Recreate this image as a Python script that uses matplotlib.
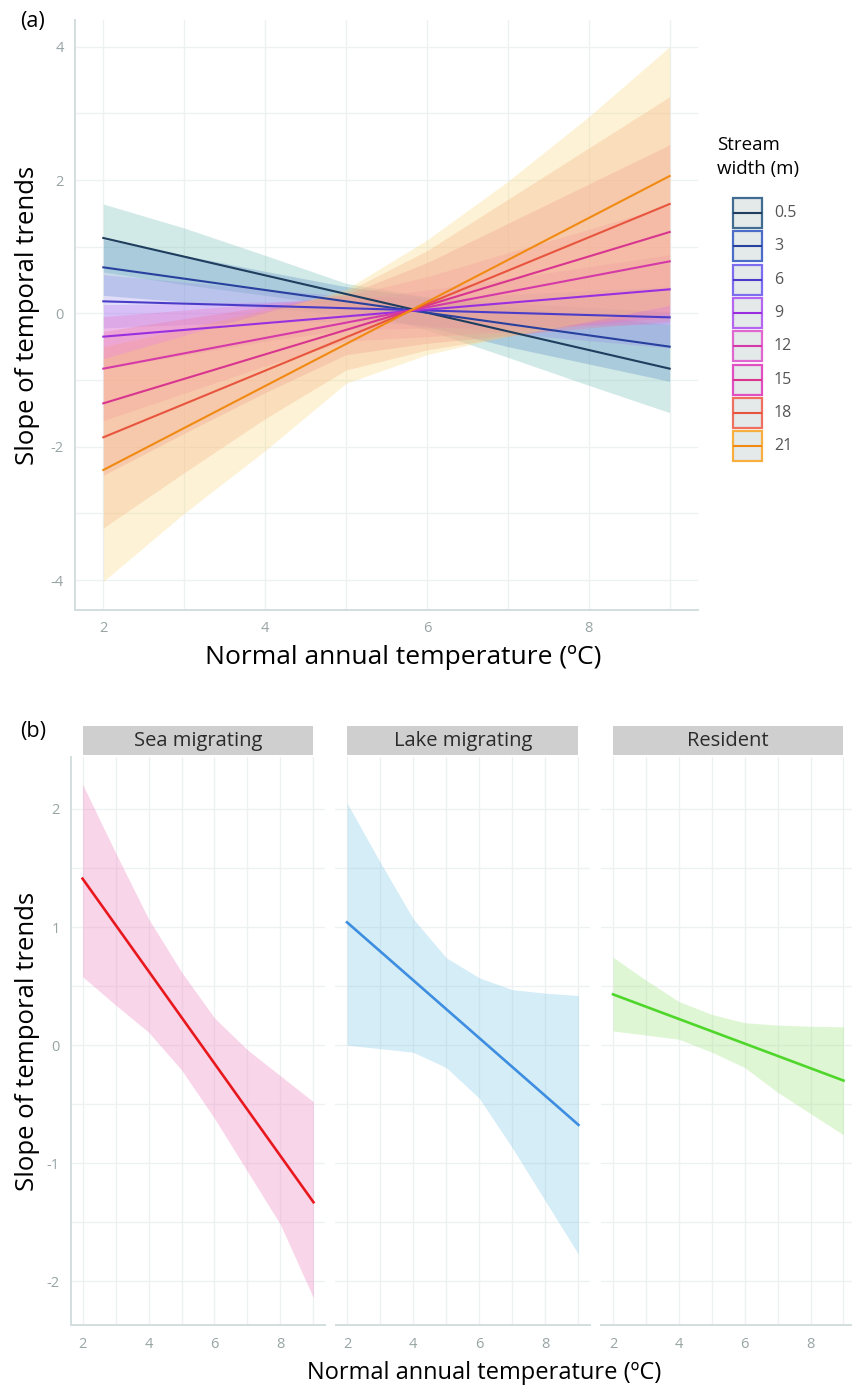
import matplotlib.pyplot as plt
from matplotlib.patches import Rectangle
from matplotlib.transforms import blended_transform_factory

plt.rcParams['font.family'] = ['Open Sans', 'DejaVu Sans']
plt.rcParams['axes.unicode_minus'] = False

# ---- panel (a): slope vs temperature for each stream width ----
temp_grid = [2, 3, 4, 5, 6, 7, 8, 9]
line_x = [2, 9]
widths = ['0.5', '3', '6', '9', '12', '15', '18', '21']

line_y = {
    '0.5': [1.13, -0.83],
    '3':   [0.69, -0.50],
    '6':   [0.18, -0.06],
    '9':   [-0.35, 0.36],
    '12':  [-0.83, 0.78],
    '15':  [-1.35, 1.22],
    '18':  [-1.86, 1.64],
    '21':  [-2.35, 2.06],
}
band_lo = {
    '0.5': [0.62, 0.43, 0.27, 0.10, -0.25, -0.66, -1.08, -1.49],
    '3':   [0.27, 0.17, 0.08, -0.02, -0.20, -0.50, -0.76, -1.02],
    '6':   [-0.22, -0.17, -0.13, -0.12, -0.18, -0.30, -0.41, -0.52],
    '9':   [-0.83, -0.63, -0.42, -0.25, -0.22, -0.20, -0.18, -0.16],
    '12':  [-1.61, -1.20, -0.79, -0.42, -0.35, -0.28, -0.17, -0.06],
    '15':  [-2.43, -1.80, -1.19, -0.62, -0.45, -0.33, -0.22, -0.12],
    '18':  [-3.22, -2.39, -1.58, -0.85, -0.55, -0.35, -0.15, 0.00],
    '21':  [-4.02, -3.00, -2.06, -1.05, -0.62, -0.34, -0.12, 0.12],
}
band_hi = {
    '0.5': [1.64, 1.28, 0.87, 0.45, 0.25, 0.10, -0.03, -0.17],
    '3':   [1.11, 0.87, 0.63, 0.40, 0.24, 0.16, 0.09, 0.02],
    '6':   [0.58, 0.47, 0.36, 0.26, 0.22, 0.28, 0.34, 0.40],
    '9':   [0.13, 0.15, 0.17, 0.20, 0.35, 0.52, 0.70, 0.88],
    '12':  [-0.05, 0.05, 0.15, 0.26, 0.55, 0.91, 1.26, 1.62],
    '15':  [-0.27, -0.08, 0.10, 0.28, 0.76, 1.35, 1.94, 2.53],
    '18':  [-0.50, -0.23, 0.05, 0.32, 0.94, 1.71, 2.48, 3.25],
    '21':  [-0.68, -0.33, 0.01, 0.36, 1.10, 1.98, 2.95, 4.00],
}
line_colors = ['#1f3d5e', '#28409e', '#4a3cc8', '#9a2fe0',
               '#d43aa8', '#d8358f', '#e8553f', '#f08a12']
fill_colors = ['#6cbcb2', '#4f86c0', '#9a90ee', '#c47cf4',
               '#ee78c4', '#ee7aa0', '#f59c80', '#f9d776']
key_edges = ['#3f6c90', '#4a6dc8', '#7b6cf0', '#b466f0',
             '#e066d0', '#e050c0', '#f07060', '#f7b040']

# ---- panel (b): slope vs temperature per life-history type ----
facets = ['Sea migrating', 'Lake migrating', 'Resident']
facet_line_y = [[1.41, -1.33], [1.04, -0.675], [0.43, -0.30]]
facet_lo = [
    [0.58, 0.34, 0.11, -0.21, -0.62, -1.07, -1.52, -2.14],
    [0.00, -0.03, -0.06, -0.19, -0.45, -0.87, -1.32, -1.77],
    [0.12, 0.085, 0.05, -0.06, -0.19, -0.40, -0.58, -0.76],
]
facet_hi = [
    [2.21, 1.63, 1.07, 0.62, 0.23, -0.04, -0.26, -0.48],
    [2.05, 1.55, 1.07, 0.74, 0.57, 0.47, 0.44, 0.42],
    [0.745, 0.55, 0.37, 0.26, 0.19, 0.17, 0.16, 0.155],
]
facet_line_colors = ['#e8191e', '#3d8de0', '#4fd62a']
facet_fill_colors = ['#ef7dbd', '#7cc8e8', '#9ee67e']

W, H = 853, 1389
fig = plt.figure(figsize=(W / 100, H / 100), dpi=100)

grid_col = '#edf1f1'
spine_col = '#d3dede'
tick_col = '#98a4a4'


def px_axes(left, top, right, bottom):
    return fig.add_axes([left / W, 1 - bottom / H, (right - left) / W, (bottom - top) / H])


def style(ax, xminor, yminor, left_spine=True):
    ax.set_facecolor('white')
    for s in ax.spines.values():
        s.set_visible(False)
    ax.spines['bottom'].set_visible(True)
    ax.spines['bottom'].set_color(spine_col)
    ax.spines['bottom'].set_linewidth(1.4)
    if left_spine:
        ax.spines['left'].set_visible(True)
        ax.spines['left'].set_color(spine_col)
        ax.spines['left'].set_linewidth(1.4)
    for v in list(ax.get_xticks()) + xminor:
        ax.axvline(v, color=grid_col, lw=1.0, zorder=0)
    for v in list(ax.get_yticks()) + yminor:
        ax.axhline(v, color=grid_col, lw=1.0, zorder=0)
    ax.tick_params(length=0, colors=tick_col, labelsize=10.5)


# panel (a)
ax = px_axes(75, 20, 698, 610)
ax.set_xlim(1.65, 9.35)
ax.set_ylim(-4.45, 4.4)
ax.set_xticks([2, 4, 6, 8])
ax.set_yticks([-4, -2, 0, 2, 4])
style(ax, [3, 5, 7, 9], [-3, -1, 1, 3])
ax.tick_params(axis='x', pad=8)
ax.tick_params(axis='y', pad=8)
for w, fc in zip(widths, fill_colors):
    ax.fill_between(temp_grid, band_lo[w], band_hi[w], color=fc, alpha=0.3, lw=0, zorder=2)
for w, lc in zip(widths, line_colors):
    ax.plot(line_x, line_y[w], color=lc, lw=1.5, zorder=3)

fig.text(28 / W, 1 - 315 / H, 'Slope of temporal trends', rotation=90,
         ha='center', va='center', fontsize=18.5)
fig.text(403 / W, 1 - 658 / H, 'Normal annual temperature (\u00baC)',
         ha='center', va='center', fontsize=19)
fig.text(20 / W, 1 - 22 / H, '(a)', ha='left', va='center', fontsize=15.5)

# legend
lg = px_axes(700, 120, 853, 480)
lg.set_xlim(700, 853)
lg.set_ylim(480, 120)
lg.axis('off')
lg.text(717, 145, 'Stream', ha='left', va='center', fontsize=13.5)
lg.text(717, 169, 'width (m)', ha='left', va='center', fontsize=13.5)
for i, (w, lc, ec) in enumerate(zip(widths, line_colors, key_edges)):
    y0 = 197 + i * 33.3
    lg.add_patch(Rectangle((733, y0 + 1), 29, 30, facecolor='#e4e9ea',
                           edgecolor=ec, lw=1.6))
    lg.plot([734, 761], [y0 + 16, y0 + 16], color=lc, lw=1.5)
    lg.text(774, y0 + 16, w, ha='left', va='center', fontsize=11.5, color='#555555')

# panel (b)
facet_px = [(71, 325), (335.5, 590), (601.5, 855)]
for k, (name, (l, r)) in enumerate(zip(facets, facet_px)):
    bx = px_axes(l, 757, r, 1325)
    bx.set_xlim(1.65, 9.35)
    bx.set_ylim(-2.37, 2.44)
    bx.set_xticks([2, 4, 6, 8])
    bx.set_yticks([-2, -1, 0, 1, 2])
    style(bx, [3, 5, 7, 9], [-1.5, -0.5, 0.5, 1.5], left_spine=(k == 0))
    bx.tick_params(axis='x', pad=9)
    bx.tick_params(axis='y', pad=8)
    if k > 0:
        bx.set_yticklabels([])
    bx.fill_between(temp_grid, facet_lo[k], facet_hi[k],
                    color=facet_fill_colors[k], alpha=0.32, lw=0, zorder=2)
    bx.plot(line_x, facet_line_y[k], color=facet_line_colors[k], lw=1.9, zorder=3)
    tr = blended_transform_factory(bx.transData, bx.transAxes)
    bx.add_patch(Rectangle((2, 1.0035), 7, 0.051, transform=tr, facecolor='#cfcfcf',
                           edgecolor='none', clip_on=False))
    bx.text(5.5, 1.029, name, transform=tr, ha='center', va='center',
            fontsize=14.5, color='#2b2b2b')

fig.text(28 / W, 1 - 1041 / H, 'Slope of temporal trends', rotation=90,
         ha='center', va='center', fontsize=18.5)
fig.text(484 / W, 1 - 1373 / H, 'Normal annual temperature (\u00baC)',
         ha='center', va='center', fontsize=17)
fig.text(20 / W, 1 - 732 / H, '(b)', ha='left', va='center', fontsize=15.5)

fig.savefig('out.png', dpi=100)
